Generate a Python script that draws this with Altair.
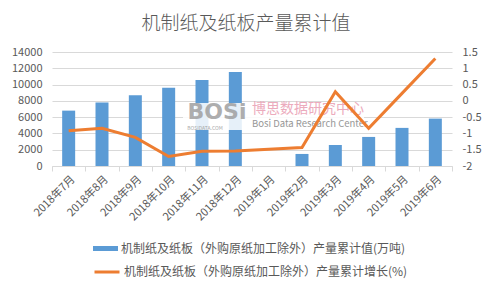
import altair as alt
import pandas as pd

months = ["2018年7月", "2018年8月", "2018年9月", "2018年10月", "2018年11月", "2018年12月",
          "2019年1月", "2019年2月", "2019年3月", "2019年4月", "2019年5月", "2019年6月"]
output = [6800, 7800, 8700, 9600, 10550, 11550, None, 1480, 2580, 3570, 4680, 5820]
growth = [-0.92, -0.84, -1.12, -1.71, -1.55, -1.54, None, -1.43, 0.28, -0.84, 0.23, 1.30]
left_ticks = [0, 2000, 4000, 6000, 8000, 10000, 12000, 14000]
right_ticks = [-2, -1.5, -1, -0.5, 0, 0.5, 1, 1.5]
bar_name = "机制纸及纸板（外购原纸加工除外）产量累计值(万吨)"
line_name = "机制纸及纸板（外购原纸加工除外）产量累计增长(%)"
title_text = "机制纸及纸板产量累计值"

FONT = "Noto Sans CJK SC"
GRAY = "#595959"
GRID = "#d9d9d9"
BLUE = "#5b9bd5"
ORANGE = "#ed7d31"

df = pd.DataFrame({"month": months, "output": output, "growth": growth,
                   "s1": bar_name, "s2": line_name})
line_df = df[df["growth"].notna()]

x_enc = alt.X("month:N", sort=months,
              scale=alt.Scale(domain=months, paddingInner=0, paddingOuter=0),
              axis=alt.Axis(title=None, labelAngle=-45, labelFontSize=11, labelColor=GRAY,
                            labelFont=FONT, domainColor=GRID, tickColor=GRID,
                            tickBand="extent", tickSize=5, labelPadding=2, grid=False))

bars = alt.Chart(df).mark_bar(size=13).encode(
    x=x_enc,
    y=alt.Y("output:Q", scale=alt.Scale(domain=[0, 14000]),
            axis=alt.Axis(title=None, values=left_ticks, labelExpr="datum.value + ''",
                          grid=True, gridColor=GRID, domain=False, ticks=False,
                          labelPadding=10, labelFontSize=11, labelColor=GRAY, labelFont=FONT)),
    color=alt.Color("s1:N", scale=alt.Scale(domain=[bar_name], range=[BLUE]),
                    legend=alt.Legend(title=None, orient="none", legendX=41, legendY=184,
                                      symbolType="M-1,-0.2H1V0.2H-1Z", symbolSize=625,
                                      symbolStrokeWidth=0, labelFontSize=12, labelFont=FONT,
                                      labelColor=GRAY, padding=0, labelOffset=3, labelLimit=450)),
)

line = alt.Chart(line_df).mark_line(strokeWidth=3).encode(
    x=x_enc,
    y=alt.Y("growth:Q", scale=alt.Scale(domain=[-2, 1.5]),
            axis=alt.Axis(title=None, orient="right", values=right_ticks,
                          labelExpr="datum.value + ''", grid=False, domain=False, ticks=False,
                          labelPadding=10, labelFontSize=11, labelColor=GRAY, labelFont=FONT)),
    color=alt.Color("s2:N", scale=alt.Scale(domain=[line_name], range=[ORANGE]),
                    legend=alt.Legend(title=None, orient="none", legendX=41, legendY=206,
                                      symbolType="stroke", symbolSize=625, symbolStrokeWidth=3,
                                      labelFontSize=12, labelFont=FONT, labelColor=GRAY,
                                      padding=0, labelOffset=3, labelLimit=450)),
)

wm_df = pd.DataFrame({"a": [1]})
wm_bg = alt.Chart(wm_df).mark_rect(color="white", opacity=0.85).encode(
    x=alt.value(131), x2=alt.value(312), y=alt.value(51), y2=alt.value(78))
wm1 = alt.Chart(wm_df).mark_text(text="BOSi", font="DejaVu Sans", fontSize=22, fontWeight="bold",
                                 color="#a0a0a0", opacity=0.85).encode(
    x=alt.value(165), y=alt.value(60))
wm2 = alt.Chart(wm_df).mark_text(text="博思数据研究中心", font=FONT, fontSize=14, align="left",
                                 color="#eba3b6", opacity=0.9).encode(
    x=alt.value(200), y=alt.value(57))
wm3 = alt.Chart(wm_df).mark_text(text="Bosi Data Research Center", font=FONT, fontSize=9.5,
                                 align="left", color="#8c8c8c", opacity=0.9).encode(
    x=alt.value(200), y=alt.value(71.5))
wm4 = alt.Chart(wm_df).mark_text(text="BOSIDATA.COM", font=FONT, fontSize=5,
                                 color="#a0a0a0", opacity=0.9).encode(
    x=alt.value(153), y=alt.value(76))

chart = alt.layer(bars, wm_bg, wm1, wm2, wm3, wm4, line).resolve_scale(
    y="independent", color="independent"
).properties(
    width=400, height=114,
    title=alt.TitleParams(title_text, fontSize=19, font=FONT, color=GRAY, fontWeight=300,
                          anchor="middle", offset=12, dx=-6),
    autosize=alt.AutoSizeParams(type="none"),
    padding={"left": 52, "top": 52, "right": 40, "bottom": 125},
    background="white",
).configure_view(stroke=None)

chart.save("out.html", embed_options={"renderer": "svg", "actions": False})
